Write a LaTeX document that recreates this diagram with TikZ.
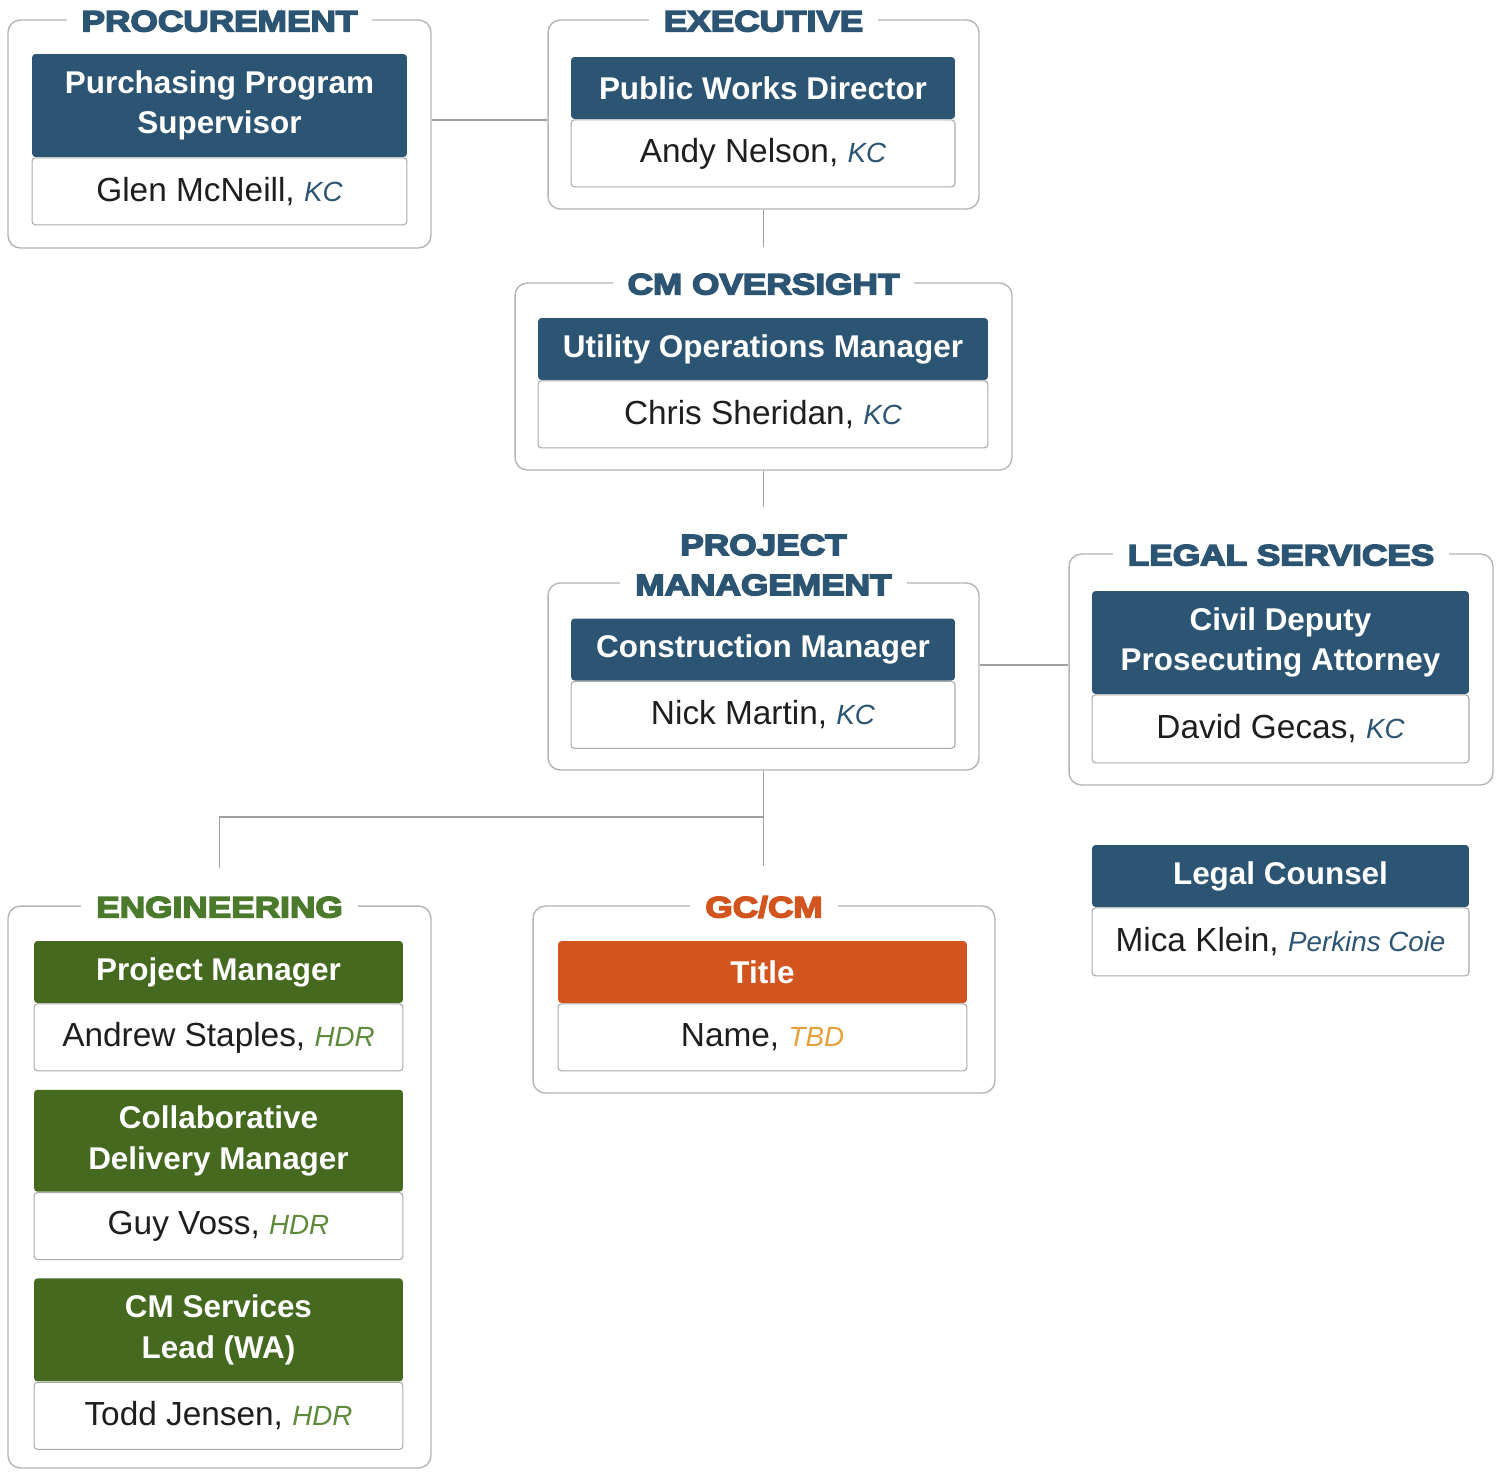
\documentclass[tikz,border=0pt]{standalone}
\usepackage{fontspec}
\setmainfont{Liberation Sans}
\newfontfamily\grpfamily[FakeStretch=1.2]{Liberation Sans}
\usetikzlibrary{positioning}

\definecolor{navy}{HTML}{2C5473}
\definecolor{grass}{HTML}{44691F}
\definecolor{rust}{HTML}{D2551F}
\definecolor{grasstxt}{HTML}{4B7A2C}
\definecolor{hdrtxt}{HTML}{5E8A3C}
\definecolor{tbdtxt}{HTML}{E6A03A}
\definecolor{framegray}{HTML}{B4B4B4}
\definecolor{cardgray}{HTML}{A9A9A9}
\definecolor{linegray}{HTML}{9E9E9E}
\definecolor{ink}{HTML}{1E1E1E}
\newcommand{\firm}[2]{\textcolor{#1}{\fontsize{15.8}{18}\selectfont\itshape #2}}
\newcommand{\heavy}[1]{\special{pdf:literal q 2 Tr 0.9 w}#1\special{pdf:literal Q}}

\tikzset{
  frame/.style={draw=framegray,line width=0.8pt,rounded corners=7pt},
  grptitle/.style={fill=white,inner xsep=0.3cm,inner ysep=1pt,text=#1,align=center,
    font=\grpfamily\bfseries\fontsize{16.7}{22.7}\selectfont},
  head/.style={fill=#1,text=white,rounded corners=2pt,minimum height=1.24cm,inner sep=0pt,
    align=center,font=\bfseries\fontsize{17.9}{23}\selectfont},
  namebox/.style={draw=cardgray,fill=white,line width=0.6pt,rounded corners=2pt,
    minimum height=1.34cm,inner sep=0pt,text=ink,font=\fontsize{19}{22}\selectfont},
  link/.style={draw=linegray,line width=0.8pt}
}

\begin{document}
\begin{tikzpicture}[x=0.02cm,y=-0.02cm]
\useasboundingbox (0,0) rectangle (1501,1471);

% group frames
\node[frame,minimum width=8.46cm,minimum height=4.56cm] (procF) at (219.5,134) {};
\node[frame,minimum width=8.62cm,minimum height=3.78cm] (execF) at (763.5,114.5) {};
\node[frame,minimum width=9.94cm,minimum height=3.74cm] (cmoF) at (763.5,376.5) {};
\node[frame,minimum width=8.62cm,minimum height=3.74cm] (pmF) at (763.5,676.5) {};
\node[frame,minimum width=8.48cm,minimum height=4.62cm] (legalF) at (1281,669.5) {};
\node[frame,minimum width=8.46cm,minimum height=11.24cm] (engF) at (219.5,1187) {};
\node[frame,minimum width=9.24cm,minimum height=3.74cm] (gcF) at (764,999.5) {};

% connectors
\coordinate (cmoIn) at (763.5,247);
\coordinate (pmIn) at (763.5,507);
\coordinate (split) at (763.5,817);
\coordinate (engIn) at (219.5,868);
\coordinate (gcIn) at (763.5,866);
\draw[link] (procF.east |- 0,120) -- (execF.west |- 0,120);
\draw[link] (execF.south) -- (cmoIn);
\draw[link] (cmoF.south) -- (pmIn);
\draw[link] (pmF.east |- 0,665) -- (legalF.west |- 0,665);
\draw[link] (pmF.south) -- (gcIn);
\draw[link] (split) -| (engIn);

% group titles
\node[grptitle=navy,anchor=base] (procT) at ([yshift=-0.24cm]procF.north) {\heavy{PROCUREMENT}};
\node[grptitle=navy,anchor=base] (execT) at ([yshift=-0.24cm]execF.north) {\heavy{EXECUTIVE}};
\node[grptitle=navy,anchor=base] (cmoT) at ([yshift=-0.24cm]cmoF.north) {\heavy{CM OVERSIGHT}};
\node[grptitle=navy] (pmT) at (763.5,565) {\heavy{PROJECT\\MANAGEMENT}};
\node[grptitle=navy,anchor=base] (legalT) at ([yshift=-0.24cm]legalF.north) {\heavy{LEGAL SERVICES}};
\node[grptitle=grasstxt,anchor=base] (engT) at ([yshift=-0.24cm]engF.north) {\heavy{ENGINEERING}};
\node[grptitle=rust,anchor=base] (gcT) at ([yshift=-0.24cm]gcF.north) {\heavy{GC/CM}};

% cards
\node[head=navy,minimum width=7.5cm,minimum height=2.06cm] (pps) at (219.5,105.5) {Purchasing Program\\Supervisor};
\node[namebox,minimum width=7.5cm,below=0pt of pps] (pps-n) {Glen McNeill, \firm{navy}{KC}};

\node[head=navy,minimum width=7.68cm] (pwd) at (763,88) {Public Works Director};
\node[namebox,minimum width=7.68cm,below=0pt of pwd] (pwd-n) {Andy Nelson, \firm{navy}{KC}};

\node[head=navy,minimum width=9cm] (uom) at (763,349) {Utility Operations Manager};
\node[namebox,minimum width=9cm,below=0pt of uom] (uom-n) {Chris Sheridan, \firm{navy}{KC}};

\node[head=navy,minimum width=7.68cm] (cm) at (763,649.5) {Construction Manager};
\node[namebox,minimum width=7.68cm,below=0pt of cm] (cm-n) {Nick Martin, \firm{navy}{KC}};

\node[head=navy,minimum width=7.54cm,minimum height=2.06cm] (cdpa) at (1280.5,642.5) {Civil Deputy\\Prosecuting Attorney};
\node[namebox,minimum width=7.54cm,minimum height=1.36cm,below=0pt of cdpa] (cdpa-n) {David Gecas, \firm{navy}{KC}};

\node[head=navy,minimum width=7.54cm] (lc) at (1280.5,876) {Legal Counsel};
\node[namebox,minimum width=7.54cm,minimum height=1.36cm,below=0pt of lc] (lc-n) {Mica Klein, \firm{navy}{Perkins Coie}};

\node[head=grass,minimum width=7.38cm] (epm) at (218.5,972) {Project Manager};
\node[namebox,minimum width=7.38cm,below=0pt of epm] (epm-n) {Andrew Staples, \firm{hdrtxt}{HDR}};
\node[head=grass,minimum width=7.38cm,minimum height=2.04cm,below=0.36cm of epm-n] (cdm) {Collaborative\\Delivery Manager};
\node[namebox,minimum width=7.38cm,below=0pt of cdm] (cdm-n) {Guy Voss, \firm{hdrtxt}{HDR}};
\node[head=grass,minimum width=7.38cm,minimum height=2.06cm,below=0.36cm of cdm-n] (cms) {CM Services\\Lead (WA)};
\node[namebox,minimum width=7.38cm,below=0pt of cms] (cms-n) {Todd Jensen, \firm{hdrtxt}{HDR}};

\node[head=rust,minimum width=8.18cm] (gct) at (762.5,972) {Title};
\node[namebox,minimum width=8.18cm,below=0pt of gct] (gct-n) {Name, \firm{tbdtxt}{TBD}};
\end{tikzpicture}
\end{document}
